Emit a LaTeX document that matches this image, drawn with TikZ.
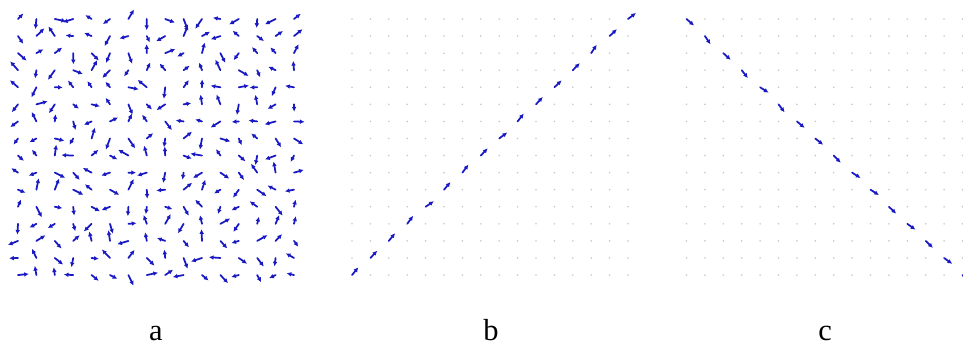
\documentclass[tikz,border=0pt]{standalone}
\usepackage{fontspec}
\setmainfont{Liberation Serif}
\usetikzlibrary{arrows.meta, positioning}
\definecolor{quivblue}{RGB}{25,25,195}
\newcommand\Dx{18.4}
\newcommand\Dy{17.07}
\tikzset{
  vec/.style={quivblue, line width=1.5pt, line cap=round, -{Latex[length=4pt, width=4pt]}},
  gridpt/.style={circle, fill=gray!45, inner sep=0pt, minimum size=1.5pt},
  panellabel/.style={anchor=base, font=\fontsize{26}{26}\selectfont},
}

\begin{document}
\begin{tikzpicture}[x=0.03cm, y=-0.03cm]
  \useasboundingbox (0,0) rectangle (963,345);
  \pgfmathsetseed{7}
  \coordinate (A) at (18,19);
  \coordinate (B) at (352,19);
  \coordinate (C) at (686.5,19);

  % a: random directions
  \foreach \i in {0,...,15} {
    \foreach \j in {0,...,15} {
      \pgfmathsetmacro\ang{360*rnd}
      \pgfmathsetmacro\len{7+5*rnd}
      \draw[vec] ([shift={(\i*\Dx,\j*\Dy)}]A) -- ++(\ang:\len);
    }
  }

  % b and c: still points, one diagonal of vectors
  \foreach \i in {0,...,15} {
    \foreach \j in {0,...,15} {
      \pgfmathtruncatemacro\k{15-\j}
      \ifnum\i=\k
        \pgfmathsetmacro\ang{-44+26*(rnd-0.5)}
        \draw[vec] ([shift={(\i*\Dx,\j*\Dy)}]B) -- ++(\ang:10);
      \else
        \node[gridpt] (b\i-\j) at ([shift={(\i*\Dx,\j*\Dy)}]B) {};
      \fi
      \ifnum\i=\j
        \pgfmathsetmacro\ang{44+26*(rnd-0.5)}
        \draw[vec] ([shift={(\i*\Dx,\j*\Dy)}]C) -- ++(\ang:10);
      \else
        \node[gridpt] (c\i-\j) at ([shift={(\i*\Dx,\j*\Dy)}]C) {};
      \fi
    }
  }

  \node[panellabel] (la) at (156,340) {a};
  \node[panellabel] (lb) at (491,340) {b};
  \node[panellabel] (lc) at (825,340) {c};
\end{tikzpicture}
\end{document}
